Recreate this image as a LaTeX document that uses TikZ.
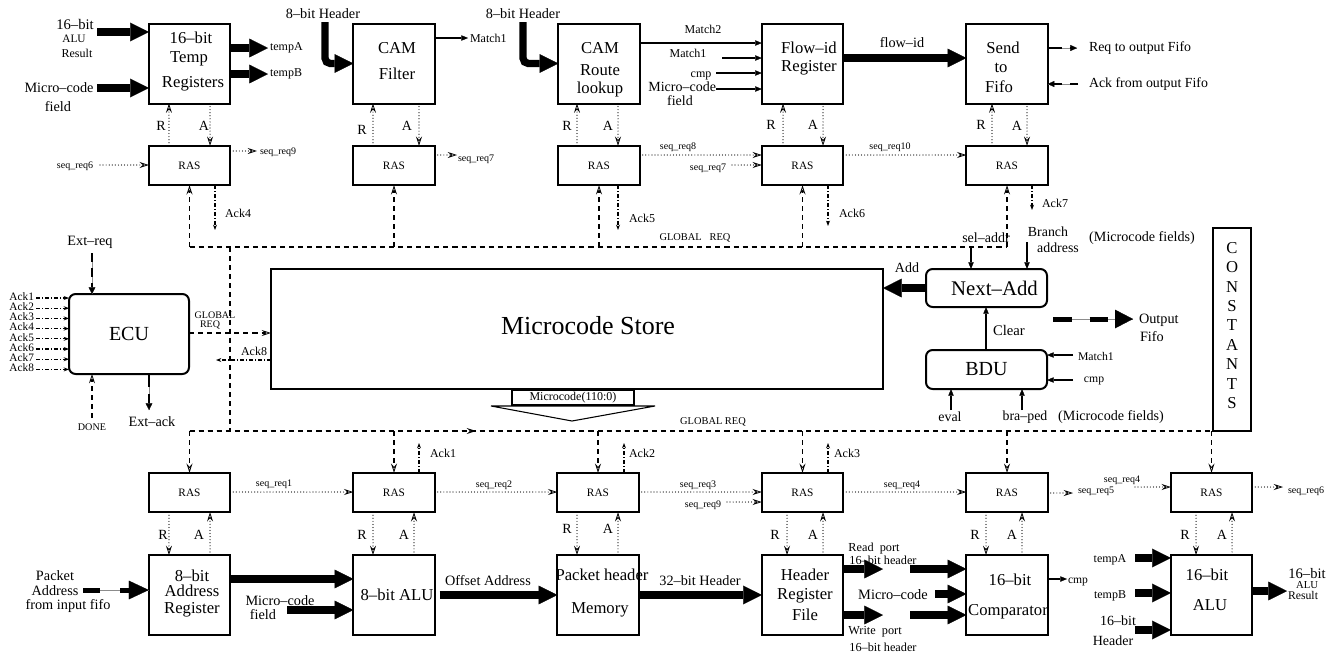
\documentclass[tikz,border=0pt]{standalone}
\usepackage{fontspec}
\setmainfont{Liberation Serif}
\usetikzlibrary{arrows.meta}
\newcommand\fsz[1]{\fontsize{#1}{#1}\selectfont}
\begin{document}
\begin{tikzpicture}[x=0.75pt,y=-0.75pt,
  every node/.style={inner sep=0pt,outer sep=0pt},
  blk/.style={draw,line width=1.5pt,minimum width=61pt,minimum height=60pt},
  rasb/.style={draw,line width=1.5pt,minimum width=61pt,minimum height=29.5pt,font=\fsz{8.5}},
  rnd/.style={draw,line width=1.5pt,rounded corners=5pt},
  bt/.style={font=\fsz{12.5}},
  lb/.style={font=\fsz{10.7}},
  sl/.style={font=\fsz{9}},
  tl/.style={font=\fsz{7.5}},
  ral/.style={font=\fsz{10.5}},
  bigarr/.style={line width=5.5pt,-{Triangle[length=14pt,width=14pt,line width=0.2pt]}},
  tarr/.style={line width=1.2pt,-{Triangle[length=5pt,width=4pt,line width=0.2pt]}},
  oTip/.style={-{Stealth[open,length=7pt,width=4.5pt,inset=2.5pt,line width=0.6pt]}},
  sqarr/.style={line width=0.9pt,line cap=round,dash pattern=on 0pt off 2.3pt,oTip},
  gd/.style={line width=0.8pt,dash pattern=on 3.8pt off 3pt},
  gda/.style={gd,oTip},
  ack/.style={line width=0.8pt,dash pattern=on 3pt off 1.5pt on 0.7pt off 1.5pt,-{Stealth[length=4pt,width=3pt]}},
  under/.style={line width=0.7pt,black!45},
]
\useasboundingbox (0,0) rectangle (1337,658);

% ---------- blocks ----------
\node[blk] (temp) at (189.5,63.5) {};
\node[blk] (camf) at (394,63.5) {};
\node[blk] (camr) at (599,63.5) {};
\node[blk] (flow) at (802.5,63.5) {};
\node[blk] (send) at (1007,63.5) {};
\node[rasb] (rt1) at (189.5,165.5) {RAS};
\node[rasb] (rt2) at (394,165.5) {RAS};
\node[rasb] (rt3) at (599,165.5) {RAS};
\node[rasb] (rt4) at (802.5,165.5) {RAS};
\node[rasb] (rt5) at (1007,165.5) {RAS};

\node[rasb] (rb1) at (189.5,492.5) {RAS};
\node[rasb] (rb2) at (394,492.5) {RAS};
\node[rasb] (rb3) at (598,492.5) {RAS};
\node[rasb] (rb4) at (802.5,492.5) {RAS};
\node[rasb] (rb5) at (1007,492.5) {RAS};
\node[rasb] (rb6) at (1211.5,492.5) {RAS};
\node[blk] (addr) at (189.5,595) {};
\node[blk] (alu8) at (394,595) {};
\node[blk] (mem) at (598,595) {};
\node[blk] (hrf) at (802.5,595) {};
\node[blk] (comp) at (1007,595) {};
\node[blk] (alu16) at (1211.5,595) {};

\node[draw,line width=1.5pt,minimum width=459pt,minimum height=90pt] (store) at (577,329) {};
\node[rnd,minimum width=90pt,minimum height=60pt,font=\fsz{15}] (ecu) at (129,334) {ECU};
\node[rnd,minimum width=90.75pt,minimum height=28.5pt] (nadd) at (986.5,288) {};
\node[rnd,minimum width=90.75pt,minimum height=29.25pt,font=\fsz{15}] (bdu) at (986.5,369.5) {BDU};
\node[draw,line width=1.5pt,minimum width=28.5pt,minimum height=152.25pt] (cons) at (1232,329.5) {};
\node[draw,line width=0.8pt,minimum width=91.5pt,minimum height=11.25pt,font=\fsz{9}] (mcode) at (573,397.5) {Microcode(110:0)};
\draw[line width=0.8pt] (491,406) -- (655,406) -- (572,421) -- cycle;

% ---------- block texts ----------
\node[bt] (temp1) at (191,38) {16--bit};
\node[bt] (temp2) at (189,59) {Temp};
\node[bt] (temp3) at (193,84) {Registers};
\node[bt] (camf1) at (397,48) {CAM};
\node[bt] (camf2) at (397,74) {Filter};
\node[bt] (camr1) at (600,48) {CAM};
\node[bt] (camr2) at (600,70) {Route};
\node[bt] (camr3) at (600,89) {lookup};
\node[bt] (flow1) at (809,48) {Flow--id};
\node[bt] (flow2) at (809,68) {Register};
\node[bt] (send1) at (1003,48) {Send};
\node[bt] (send2) at (1001,68) {to};
\node[bt] (send3) at (999,87) {Fifo};
\node[bt] (addr1) at (192,576) {8--bit};
\node[bt] (addr2) at (192,591) {Address};
\node[bt] (addr3) at (192,610) {Register};
\node[bt] (alu81) at (397,595) {8--bit ALU};
\node[bt] (mem1) at (602,575) {Packet header};
\node[bt] (mem2) at (600,610) {Memory};
\node[bt] (hrf1) at (805,575) {Header};
\node[bt] (hrf2) at (805,596) {Register};
\node[bt] (hrf3) at (805,615) {File};
\node[bt] (comp1) at (1010,580) {16--bit};
\node[bt] (comp2) at (1008,612) {Comparator};
\node[bt] (alu161) at (1207,575) {16--bit};
\node[bt] (alu162) at (1210,605) {ALU};
\node[font=\fsz{19.5}] (storet) at (588,326) {Microcode Store};
\node[font=\fsz{15.6}] (naddt) at (994.5,288) {Next--Add};
\node[font=\fontsize{12.5}{14.55}\selectfont,align=center] (const) at (1232,325.5) {C\\O\\N\\S\\T\\A\\N\\T\\S};

% ---------- free-end coordinates ----------
\coordinate (iALU) at (97,32);
\coordinate (iMC) at (97,88);
\coordinate (oTA) at (268,48);
\coordinate (oTB) at (268,74);
\coordinate (hF) at (325,22);
\coordinate (hR) at (523,22);
\coordinate (oM1) at (468,38);
\coordinate (yM2) at (0,43);
\coordinate (iM1) at (722,58);
\coordinate (iCmp) at (716,73);
\coordinate (iMcf) at (716,89);
\coordinate (yFid) at (0,58);
\coordinate (oReq) at (1077,48);
\coordinate (iAck) at (1078,84);
\coordinate (iSq6) at (100,165);
\coordinate (oSq9) at (257,151);
\coordinate (oSq7) at (457,155);
\coordinate (ySq) at (0,155);
\coordinate (iSq7) at (732,165);
\coordinate (eA4) at (215,230);
\coordinate (eA5) at (618,230);
\coordinate (eA6) at (828,226);
\coordinate (eA7) at (1032,210);
\coordinate (eA1) at (419,443);
\coordinate (eA2) at (624,443);
\coordinate (eA3) at (828,443);
\coordinate (bT) at (0,247);
\coordinate (bB) at (0,431);
\coordinate (bJ) at (230,247);
\coordinate (bArr) at (476,431);
\coordinate (gy) at (0,333);
\coordinate (oA8) at (216,360);
\coordinate (iXr) at (92,253);
\coordinate (oXa) at (149,410);
\coordinate (iDone) at (92,418);
\coordinate (iSel) at (971,247);
\coordinate (iBr) at (1027,242);
\coordinate (xCl) at (986,0);
\coordinate (iBm) at (1073,355);
\coordinate (iBc) at (1073,380);
\coordinate (iEv) at (951,410);
\coordinate (iBp) at (1022,410);
\coordinate (oF1) at (1053,319);
\coordinate (oF2) at (1133,319);
\coordinate (iPA) at (83,590);
\coordinate (yA) at (0,579);
\coordinate (iMc2) at (287,610);
\coordinate (yRd) at (0,569);
\coordinate (oRd) at (883,569);
\coordinate (iRd) at (910,569);
\coordinate (iMc3) at (935,594);
\coordinate (yWr) at (0,615);
\coordinate (oWr) at (883,615);
\coordinate (iWr) at (910,615);
\coordinate (oCmp) at (1067,579);
\coordinate (iTA) at (1135,558);
\coordinate (iTB) at (1135,593);
\coordinate (iHd) at (1135,630);
\coordinate (oRes) at (1287,591);
\coordinate (yS) at (0,492);
\coordinate (iSq9b) at (727,502);
\coordinate (oSq5) at (1073,493);
\coordinate (iSq4) at (1135,487);
\coordinate (oSq6) at (1283,487);

% ---------- global request buses ----------
\draw[gd] (rt1.south |- bT) -- (rt5.south |- bT);
\foreach \n in {rt1,rt2,rt3,rt4,rt5} \draw[gda] (\n.south |- bT) -- (\n.south);
\draw[gd] (bJ) -- (bJ |- bB);
\draw[gd] (rb1.north |- bB) -- (rb6.north |- bB);
\draw[gda] (rb1.north |- bB) -- (bArr);
\foreach \n in {rb1,rb2,rb3,rb4,rb5,rb6} \draw[gda] (\n.north |- bB) -- (\n.north);
\node[font=\fsz{7.8}] (gl1) at (695,238) {GLOBAL\ \ \ REQ};
\node[font=\fsz{7.8}] (gl2) at (713,422) {GLOBAL REQ};

% ---------- acks ----------
\draw[ack] (eA4 |- rt1.south) -- (eA4);
\draw[ack] (eA5 |- rt3.south) -- (eA5);
\draw[ack] (eA6 |- rt4.south) -- (eA6);
\draw[ack] (eA7 |- rt5.south) -- (eA7);
\draw[ack] (eA1 |- rb2.north) -- (eA1);
\draw[ack] (eA2 |- rb3.north) -- (eA2);
\draw[ack] (eA3 |- rb4.north) -- (eA3);
\node[sl] (a4) at (238,213) {Ack4};
\node[sl] (a5) at (642,218) {Ack5};
\node[sl] (a6) at (852,213) {Ack6};
\node[sl] (a7) at (1055,203) {Ack7};
\node[sl] (a1) at (443,453) {Ack1};
\node[sl] (a2) at (642,453) {Ack2};
\node[sl] (a3) at (847,453) {Ack3};

% ---------- R / A handshakes ----------
\foreach \b/\r/\ro/\ao in {temp/rt1/-15.4pt/15.4pt, camf/rt2/-15.75pt/18.75pt, camr/rt3/-16.5pt/14.25pt, flow/rt4/-14.6pt/15.4pt, send/rt5/-11.25pt/15pt} {
  \draw[sqarr] ([xshift=\ro]\r.north) -- ([xshift=\ro]\b.south);
  \draw[sqarr] ([xshift=\ao]\b.south) -- ([xshift=\ao]\r.north);
}
\foreach \b/\r/\ro/\ao in {addr/rb1/-15.4pt/15.4pt, alu8/rb2/-15.75pt/15pt, mem/rb3/-15.75pt/15pt, hrf/rb4/-11.6pt/15.4pt, comp/rb5/-15.75pt/11.25pt, alu16/rb6/-11.6pt/15.4pt} {
  \draw[sqarr] ([xshift=\ro]\r.south) -- ([xshift=\ro]\b.north);
  \draw[sqarr] ([xshift=\ao]\b.north) -- ([xshift=\ao]\r.south);
}
\foreach \x/\y [count=\i] in {161/126,362/130,567/126,771/125,981/125} \node[ral] (Rt\i) at (\x,\y) {R};
\foreach \x/\y [count=\i] in {204/126,407/126,608/126,813/125,1017/126} \node[ral] (At\i) at (\x,\y) {A};
\foreach \x/\y [count=\i] in {163/535,362/535,567/529,775/535,975/535,1185/535} \node[ral] (Rb\i) at (\x,\y) {R};
\foreach \x/\y [count=\i] in {199/535,404/535,608/529,813/535,1012/535,1222/535} \node[ral] (Ab\i) at (\x,\y) {A};

% ---------- sequencing requests ----------
\draw[sqarr] (iSq6) -- (iSq6 -| rt1.west);
\draw[sqarr] (oSq9 -| rt1.east) -- (oSq9);
\draw[sqarr] (oSq7 -| rt2.east) -- (oSq7);
\draw[sqarr] (rt3.east |- ySq) -- (rt4.west |- ySq);
\draw[sqarr] (iSq7) -- (iSq7 -| rt4.west);
\draw[sqarr] (rt4.east |- ySq) -- (rt5.west |- ySq);
\draw[sqarr] (rb1.east |- yS) -- (rb2.west |- yS);
\draw[sqarr] (rb2.east |- yS) -- (rb3.west |- yS);
\draw[sqarr] (rb3.east |- yS) -- (rb4.west |- yS);
\draw[sqarr] (iSq9b) -- (iSq9b -| rb4.west);
\draw[sqarr] (rb4.east |- yS) -- (rb5.west |- yS);
\draw[sqarr] (oSq5 -| rb5.east) -- (oSq5);
\draw[sqarr] (iSq4) -- (iSq4 -| rb6.west);
\draw[sqarr] (oSq6 -| rb6.east) -- (oSq6);
\node[tl] (s1) at (75,166) {seq\_req6};
\node[tl,anchor=west] (s2) at (260,152) {seq\_req9};
\node[tl,anchor=west] (s3) at (458,159) {seq\_req7};
\node[tl] (s4) at (678,147) {seq\_req8};
\node[tl] (s5) at (708,168) {seq\_req7};
\node[tl] (s6) at (890,147) {seq\_req10};
\node[tl] (s7) at (274,484) {seq\_req1};
\node[tl] (s8) at (494,485) {seq\_req2};
\node[tl] (s9) at (698,485) {seq\_req3};
\node[tl] (s10) at (703,505) {seq\_req9};
\node[tl] (s11) at (902,485) {seq\_req4};
\node[tl,anchor=west] (s12) at (1078,491) {seq\_req5};
\node[tl] (s13) at (1122,480) {seq\_req4};
\node[tl,anchor=west] (s14) at (1288,491) {seq\_req6};

% ---------- top row data paths ----------
\draw[bigarr] (iALU) -- (iALU -| temp.west);
\draw[bigarr] (iMC) -- (iMC -| temp.west);
\draw[bigarr] (oTA -| temp.east) -- (oTA);
\draw[bigarr] (oTB -| temp.east) -- (oTB);
\draw[bigarr,rounded corners=4pt] (hF) |- (camf.west);
\draw[bigarr,rounded corners=4pt] (hR) |- (camr.west);
\draw[tarr] (oM1 -| camf.east) -- (oM1);
\draw[tarr] (camr.east |- yM2) -- (flow.west |- yM2);
\draw[tarr] (iM1) -- (iM1 -| flow.west);
\draw[tarr] (iCmp) -- (iCmp -| flow.west);
\draw[tarr] (iMcf) -- (iMcf -| flow.west);
\draw[bigarr] (flow.east |- yFid) -- (send.west |- yFid);
\draw[under] (oReq -| send.east) -- (oReq);
\draw[line width=1.5pt,dash pattern=on 10.5pt off 6pt,-{Triangle[length=5pt,width=4.5pt,line width=0.2pt]}] (oReq -| send.east) -- (oReq);
\draw[under] (iAck) -- (iAck -| send.east);
\draw[line width=1.5pt,dash pattern=on 6pt off 6pt,-{Triangle[length=5pt,width=4.5pt,line width=0.2pt]}] (iAck) -- (iAck -| send.east);

\node[font=\fsz{11}] (n1) at (75,24) {16--bit};
\node[font=\fsz{8.5}] (n2) at (74,39) {ALU};
\node[font=\fsz{9}] (n3) at (77,53) {Result};
\node[lb] (n4) at (59,88) {Micro--code};
\node[lb] (n5) at (58,107) {field};
\node[sl,anchor=west] (n6) at (270,48) {tempA};
\node[sl,anchor=west] (n7) at (270,74) {tempB};
\node[lb] (n8) at (323,14) {8--bit Header};
\node[lb] (n9) at (523,14) {8--bit Header};
\node[sl,anchor=west] (n10) at (470,38) {Match1};
\node[sl] (n11) at (703,29) {Match2};
\node[sl] (n12) at (688,53) {Match1};
\node[sl] (n13) at (701,76) {cmp};
\node[font=\fsz{10.5},anchor=east] (n14) at (716,87) {Micro--code};
\node[font=\fsz{10.5}] (n15) at (680,101) {field};
\node[lb] (n16) at (902,43) {flow--id};
\node[font=\fsz{10.4},anchor=west] (n17) at (1089,48) {Req to output Fifo};
\node[font=\fsz{10.4},anchor=west] (n18) at (1089,84) {Ack from output Fifo};

% ---------- ECU ----------
\draw[gda] (ecu.east |- gy) -- (store.west |- gy);
\draw[ack] (oA8 -| store.west) -- (oA8);
\draw[gda] (iDone) -- (iDone |- ecu.south);
\draw[under] (iXr) -- (iXr |- ecu.north);
\draw[line width=2pt,dash pattern=on 6.75pt off 4.5pt,-{Triangle[length=5pt,width=5pt,line width=0.2pt]}] (iXr) -- (iXr |- ecu.north);
\draw[under] (oXa |- ecu.south) -- (oXa);
\draw[line width=2pt,dash pattern=on 9.75pt off 5.25pt,-{Triangle[length=5pt,width=5pt,line width=0.2pt]}] (oXa |- ecu.south) -- (oXa);
\foreach \i in {1,...,8} {
  \coordinate (ai\i) at (36,{298+10.2*(\i-1)});
  \draw[ack] (ai\i) -- (ai\i -| ecu.west);
  \node[font=\fsz{8.5},anchor=east] (al\i) at (34,{296.5+10.2*(\i-1)}) {Ack\i};
}
\node[lb] (n20) at (90,242) {Ext--req};
\node[lb] (n21) at (152,422) {Ext--ack};
\node[font=\fsz{7.6}] (n22) at (92,427) {DONE};
\node[tl] (n23) at (215,315) {GLOBAL};
\node[tl] (n24) at (210,325) {REQ};
\node[sl] (a8) at (254,351) {Ack8};

% ---------- next address / BDU ----------
\draw[bigarr] (nadd.west) -- (nadd.west -| store.east);
\draw[tarr] (iSel) -- (iSel |- nadd.north);
\draw[tarr] (iBr) -- (iBr |- nadd.north);
\draw[tarr] (xCl |- bdu.north) -- (xCl |- nadd.south);
\draw[tarr] (iBm) -- (iBm -| bdu.east);
\draw[tarr] (iBc) -- (iBc -| bdu.east);
\draw[tarr] (iEv) -- (iEv |- bdu.south);
\draw[tarr] (iBp) -- (iBp |- bdu.south);
\draw[under] (oF1) -- (oF2);
\draw[line width=3.75pt,dash pattern=on 14pt off 13.5pt,-{Triangle[length=13.5pt,width=14pt,line width=0.2pt]}] (oF1) -- (oF2);
\node[font=\fsz{10.5}] (n30) at (907,268) {Add};
\node[font=\fsz{10.5}] (n31) at (986,238) {sel--addr};
\node[font=\fsz{10.4}] (n32) at (1048,232) {Branch};
\node[font=\fsz{10.4}] (n33) at (1058,248) {address};
\node[font=\fsz{10.6}] (n34) at (1142,238) {(Microcode fields)};
\node[font=\fsz{11},anchor=west] (n35) at (993,330) {Clear};
\node[font=\fsz{8.8},anchor=west] (n36) at (1078,356) {Match1};
\node[font=\fsz{8.8}] (n37) at (1094,381) {cmp};
\node[font=\fsz{10.4}] (n38) at (950,417) {eval};
\node[font=\fsz{10.4}] (n39) at (1025,417) {bra--ped};
\node[font=\fsz{10.6}] (n40) at (1111,417) {(Microcode fields)};
\node[lb,anchor=west] (n41) at (1139,320) {Output};
\node[lb,anchor=west] (n42) at (1140,337) {Fifo};

% ---------- bottom row data paths ----------
\draw[under] (iPA) -- (iPA -| addr.west);
\draw[line width=3.75pt,dash pattern=on 12.75pt off 15pt,-{Triangle[length=15pt,width=14pt,line width=0.2pt]}] (iPA) -- (iPA -| addr.west);
\draw[bigarr] (addr.east |- yA) -- (alu8.west |- yA);
\draw[bigarr] (iMc2) -- (iMc2 -| alu8.west);
\draw[bigarr] ([xshift=3.75pt]alu8.east) -- (mem.west);
\draw[bigarr] (mem.east) -- (hrf.west);
\draw[bigarr] (hrf.east |- yRd) -- (oRd);
\draw[bigarr] (iRd) -- (iRd -| comp.west);
\draw[bigarr] (iMc3) -- (iMc3 -| comp.west);
\draw[bigarr] (hrf.east |- yWr) -- (oWr);
\draw[bigarr] (iWr) -- (iWr -| comp.west);
\draw[tarr] (oCmp -| comp.east) -- (oCmp);
\draw[bigarr] (iTA) -- (iTA -| alu16.west);
\draw[bigarr] (iTB) -- (iTB -| alu16.west);
\draw[bigarr] (iHd) -- (iHd -| alu16.west);
\draw[bigarr] (oRes -| alu16.east) -- (oRes);

\node[lb] (b1) at (55,576) {Packet};
\node[lb] (b2) at (55,591) {Address};
\node[lb] (b3) at (68,606) {from input fifo};
\node[lb] (b4) at (280,601) {Micro--code};
\node[lb] (b5) at (263,615) {field};
\node[lb] (b6) at (488,581) {Offset Address};
\node[lb] (b7) at (700,581) {32--bit Header};
\node[font=\fsz{9.2}] (b8) at (874,549) {Read\ \ port};
\node[font=\fsz{9.2}] (b9) at (883,560) {16--bit header};
\node[font=\fsz{10.8}] (b10) at (893,595) {Micro--code};
\node[font=\fsz{9.2}] (b11) at (875,632) {Write\ \ port};
\node[font=\fsz{9.2}] (b12) at (883,647) {16--bit header};
\node[font=\fsz{8.7},anchor=west] (b13) at (1068,582) {cmp};
\node[sl] (b14) at (1110,560) {tempA};
\node[sl] (b15) at (1110,596) {tempB};
\node[font=\fsz{10.5}] (b16) at (1118,621) {16--bit};
\node[font=\fsz{10.5}] (b17) at (1113,641) {Header};
\node[font=\fsz{10.9}] (b18) at (1307,574) {16--bit};
\node[font=\fsz{8}] (b19) at (1307,585) {ALU};
\node[font=\fsz{8.8}] (b20) at (1303,595) {Result};
\end{tikzpicture}
\end{document}
